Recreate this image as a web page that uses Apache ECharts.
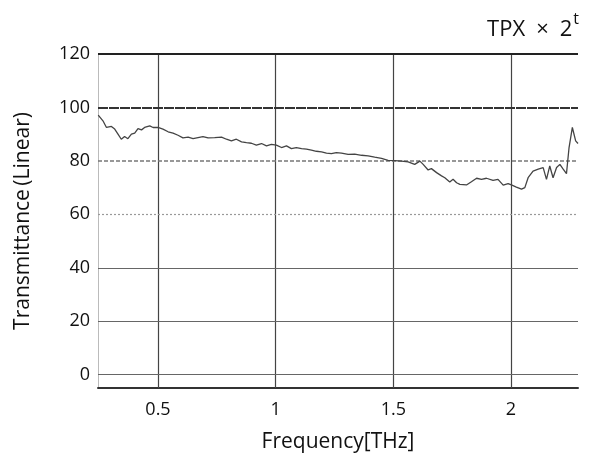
<!DOCTYPE html>
<html>
<head>
<meta charset="utf-8">
<script src="https://cdn.jsdelivr.net/npm/echarts@6/dist/echarts.min.js"></script>
<style>
  html, body { margin: 0; padding: 0; background: #fff; }
  #chart { width: 606px; height: 465px; }
</style>
</head>
<body>
<div id="chart"></div>
<script>
// 频率 (THz) 与透过率 (%)
const freq = [
    0.246, 0.266, 0.281, 0.302, 0.316, 0.330, 0.344, 0.358, 0.372, 0.387,
    0.401, 0.415, 0.430, 0.443, 0.465, 0.479, 0.500, 0.521, 0.543, 0.564,
    0.585, 0.606, 0.628, 0.649, 0.670, 0.691, 0.713, 0.741, 0.770, 0.791,
    0.812, 0.833, 0.855, 0.876, 0.897, 0.918, 0.940, 0.961, 0.982, 1.003,
    1.025, 1.046, 1.067, 1.088, 1.110, 1.131, 1.152, 1.173, 1.195, 1.216,
    1.237, 1.258, 1.280, 1.308, 1.336, 1.365, 1.393, 1.421, 1.450, 1.478,
    1.507, 1.535, 1.563, 1.591, 1.613, 1.627, 1.648, 1.662, 1.684, 1.705,
    1.719, 1.740, 1.754, 1.769, 1.783, 1.811, 1.832, 1.854, 1.875, 1.896,
    1.924, 1.945, 1.967, 1.988, 2.002, 2.023, 2.045, 2.059, 2.073, 2.094,
    2.116, 2.137, 2.151, 2.165, 2.179, 2.194, 2.208, 2.222, 2.236, 2.247,
    2.261, 2.275, 2.285
];
const trans = [
    97.1, 95.0, 92.5, 92.9, 91.9, 90.0, 88.1, 89.1, 88.3, 90.0,
    90.4, 92.1, 91.6, 92.5, 93.1, 92.5, 92.5, 91.9, 90.9, 90.4,
    89.6, 88.6, 88.9, 88.3, 88.7, 89.1, 88.6, 88.7, 88.9, 88.1,
    87.5, 88.1, 87.1, 86.8, 86.6, 85.9, 86.5, 85.6, 86.2, 85.9,
    85.0, 85.6, 84.6, 85.0, 84.6, 84.4, 84.0, 83.6, 83.4, 82.9,
    82.7, 83.1, 82.9, 82.4, 82.5, 82.1, 81.9, 81.4, 80.9, 80.2,
    80.1, 79.9, 79.6, 78.7, 79.9, 78.7, 76.6, 77.1, 75.6, 74.4,
    73.7, 72.1, 73.1, 71.8, 71.2, 71.0, 72.2, 73.5, 73.1, 73.5,
    72.7, 73.1, 70.9, 71.5, 71.0, 70.2, 69.4, 70.0, 73.7, 76.2,
    76.9, 77.5, 73.1, 78.1, 73.7, 77.5, 78.7, 76.9, 75.2, 85.0,
    92.5, 87.5, 86.5
];
const xTicks = [0.5, 1, 1.5, 2];
const yTicks = [0, 20, 40, 60, 80, 100, 120];

const X_MIN = 0.245, X_MAX = 2.285;
const Y_MIN = -5, Y_MAX = 120;
const FONT = 'Open Sans';

// 横向网格线样式（原图各条线深浅不一）
function hLineStyle(v) {
    if (v === 120) return { color: '#222', width: 2, type: 'solid' };
    if (v === 100) return { color: '#333', width: 2, type: [10, 1] };
    if (v === 80) return { color: '#777', width: 1.5, type: [4, 2] };
    if (v === 60) return { color: '#999', width: 1.2, type: [2, 2] };
    return { color: '#666', width: 1, type: 'solid' };
}

const chart = echarts.init(document.getElementById('chart'));

const markData = []
    .concat(xTicks.map(v => ({ xAxis: v, lineStyle: { color: '#444', width: 1.2, type: 'solid' } })))
    .concat([{ xAxis: X_MAX, lineStyle: { color: '#333', width: 1.5, type: 'solid' } }])
    .concat(yTicks.map(v => ({ yAxis: v, lineStyle: hLineStyle(v) })));

const option = {
    animation: false,
    title: {
        text: '{a|TPX\u2002×\u20022}{b|t}',
        right: 22,
        top: 6,
        textStyle: {
            fontWeight: 'normal',
            rich: {
                a: { fontFamily: FONT, fontSize: 22, fontWeight: 'normal', color: '#111', verticalAlign: 'bottom', lineHeight: 30 },
                b: { fontFamily: FONT, fontSize: 16, fontWeight: 'normal', color: '#111', verticalAlign: 'top', padding: [0, 0, 14, 1] }
            }
        }
    },
    grid: {
        left: 98,
        right: 28,
        top: 54,
        bottom: 77,
        show: false
    },
    xAxis: {
        type: 'value',
        min: X_MIN,
        max: X_MAX,
        name: 'Frequency[THz]',
        nameLocation: 'middle',
        nameGap: 44,
        nameTextStyle: { fontFamily: FONT, fontSize: 21, color: '#111' },
        axisLine: { show: true, onZero: false, lineStyle: { color: '#333', width: 2 } },
        axisTick: { show: false },
        splitLine: { show: false },
        axisLabel: {
            customValues: xTicks,
            margin: 13,
            fontFamily: FONT,
            fontSize: 18,
            color: '#111',
            formatter: v => String(v)
        }
    },
    yAxis: {
        type: 'value',
        min: Y_MIN,
        max: Y_MAX,
        name: 'Transmittance\u2009(Linear)',
        nameLocation: 'middle',
        nameGap: 64,
        nameRotate: 90,
        nameTextStyle: { fontFamily: FONT, fontSize: 21, color: '#111' },
        axisLine: { show: true, onZero: false, lineStyle: { color: '#bbb', width: 1 } },
        axisTick: { show: false },
        splitLine: { show: false },
        axisLabel: {
            customValues: yTicks,
            margin: 8,
            fontFamily: FONT,
            fontSize: 18,
            color: '#111'
        }
    },
    series: [{
        type: 'line',
        data: freq.map((f, i) => [f, trans[i]]),
        symbol: 'none',
        smooth: false,
        lineStyle: { color: '#444', width: 1.3 },
        z: 3,
        markLine: {
            silent: true,
            symbol: 'none',
            label: { show: false },
            animation: false,
            z: 2,
            data: markData
        }
    }]
};

chart.setOption(option);
</script>
</body>
</html>
